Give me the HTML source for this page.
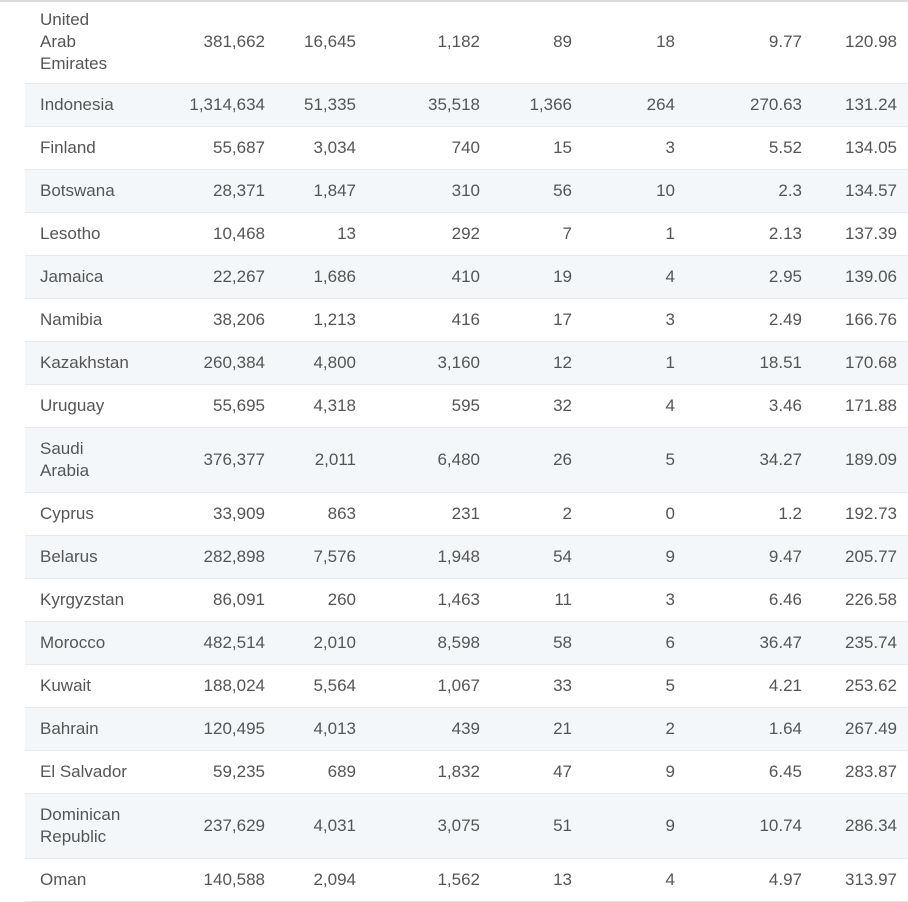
<!DOCTYPE html>
<html><head><style>
body{margin:0;width:908px;height:902px;background:#fff;font-family:"Liberation Sans",sans-serif;font-size:17px;color:#555;overflow:hidden;position:relative}
.top{position:absolute;left:0;top:0;width:908px;height:2px;background:#dcdcdc}
.r{position:absolute;left:25px;width:883px;border-bottom:1px solid #e6eaee;box-sizing:border-box}
.s{background:#f4f7fa}
.c{position:absolute;top:0;bottom:0;display:flex;align-items:center;line-height:22px}
.n{justify-content:flex-end}
</style></head><body>
<div class="top"></div>
<div id="t"></div>
<script>
var d=[["United<br>Arab<br>Emirates","381,662","16,645","1,182","89","18","9.77","120.98"],
["Indonesia","1,314,634","51,335","35,518","1,366","264","270.63","131.24"],
["Finland","55,687","3,034","740","15","3","5.52","134.05"],
["Botswana","28,371","1,847","310","56","10","2.3","134.57"],
["Lesotho","10,468","13","292","7","1","2.13","137.39"],
["Jamaica","22,267","1,686","410","19","4","2.95","139.06"],
["Namibia","38,206","1,213","416","17","3","2.49","166.76"],
["Kazakhstan","260,384","4,800","3,160","12","1","18.51","170.68"],
["Uruguay","55,695","4,318","595","32","4","3.46","171.88"],
["Saudi<br>Arabia","376,377","2,011","6,480","26","5","34.27","189.09"],
["Cyprus","33,909","863","231","2","0","1.2","192.73"],
["Belarus","282,898","7,576","1,948","54","9","9.47","205.77"],
["Kyrgyzstan","86,091","260","1,463","11","3","6.46","226.58"],
["Morocco","482,514","2,010","8,598","58","6","36.47","235.74"],
["Kuwait","188,024","5,564","1,067","33","5","4.21","253.62"],
["Bahrain","120,495","4,013","439","21","2","1.64","267.49"],
["El Salvador","59,235","689","1,832","47","9","6.45","283.87"],
["Dominican<br>Republic","237,629","4,031","3,075","51","9","10.74","286.34"],
["Oman","140,588","2,094","1,562","13","4","4.97","313.97"]];
var rights=[265,356,480,572,675,802,897];
var h="",y=0;
d.forEach(function(r,i){
 var lines=r[0].split("<br>").length;
 var ht=lines==3?84:lines==2?65:43;
 h+='<div class="r'+(i%2?' s':'')+'" style="top:'+y+'px;height:'+ht+'px">';
 h+='<div class="c" style="left:15px">'+r[0]+'</div>';
 for(var k=1;k<8;k++){h+='<div class="c n" style="right:'+(908-rights[k-1])+'px;width:150px">'+r[k]+'</div>';}
 h+='</div>';y+=ht;
});
document.getElementById("t").innerHTML=h;
</script>
<div class="top"></div>
</body></html>
